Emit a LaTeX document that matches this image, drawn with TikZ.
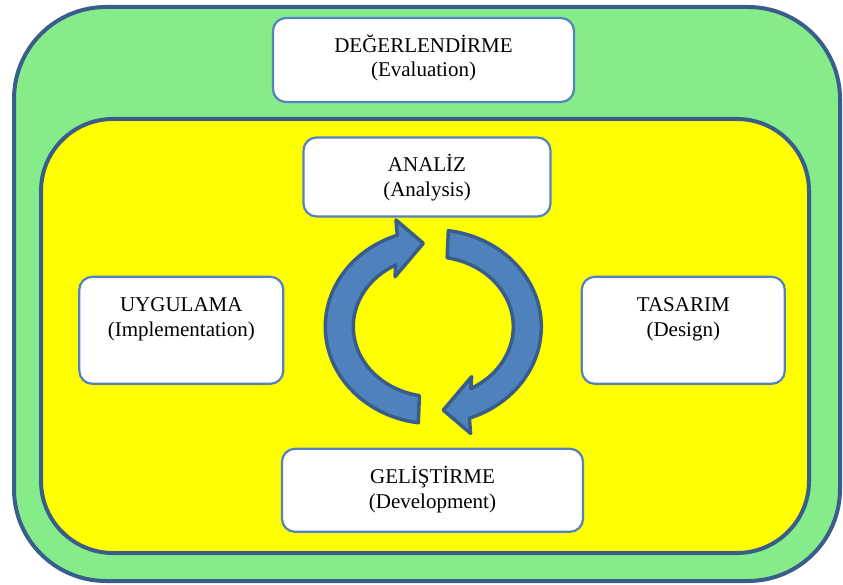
\documentclass[tikz,border=0pt]{standalone}
\usepackage{fontspec}
\setmainfont{Liberation Serif}
\definecolor{greenfill}{RGB}{134,236,137}
\definecolor{yellowfill}{RGB}{255,255,0}
\definecolor{darkline}{RGB}{58,94,140}
\definecolor{boxline}{RGB}{84,130,192}
\definecolor{arrowfill}{RGB}{79,129,189}
\definecolor{arrowline}{RGB}{56,93,138}
\begin{document}
\begin{tikzpicture}[x=1pt,y=1pt,
  panel/.style={draw=darkline,line width=4pt},
  stagebox/.style={draw=boxline,fill=white,line width=2.2pt,rounded corners=13pt,inner sep=0pt},
  txt/.style={font=\fontsize{21}{25}\selectfont,anchor=base,inner sep=0pt},
  cyclearrow/.style={fill=arrowfill,draw=arrowline,line width=3.5pt,line join=round}]
\useasboundingbox (0,0) rectangle (843,584);
% outer green panel
\draw[panel,fill=greenfill,rounded corners=92pt] (14,3) rectangle (840,577);
% inner yellow panel
\draw[panel,fill=yellowfill,rounded corners=72pt] (41,31) rectangle (809,465);
% boxes
\node[stagebox,minimum width=301pt,minimum height=84pt] (deg) at (423.5,524) {};
\node[stagebox,minimum width=247pt,minimum height=79pt] (ana) at (427,407) {};
\node[stagebox,minimum width=204pt,minimum height=107pt] (uyg) at (181.3,253.7) {};
\node[stagebox,minimum width=203pt,minimum height=107pt] (tas) at (683.3,253.7) {};
\node[stagebox,minimum width=301pt,minimum height=83pt] (gel) at (432.5,93.7) {};
% texts
\node[txt] (deg1) at (423.5,531) {DEĞERLENDİRME};
\node[txt] (deg2) at (423.5,507) {(Evaluation)};
\node[txt] (ana1) at (427,412.3) {ANALİZ};
\node[txt] (ana2) at (427,387.3) {(Analysis)};
\node[txt] (uyg1) at (181.3,272.3) {UYGULAMA};
\node[txt] (uyg2) at (181.3,247.3) {(Implementation)};
\node[txt] (tas1) at (683.3,272.3) {TASARIM};
\node[txt] (tas2) at (683.3,247.3) {(Design)};
\node[txt] (gel1) at (432.5,100.7) {GELİŞTİRME};
\node[txt] (gel2) at (432.5,75.7) {(Development)};
% circular arrows
\coordinate (cyc) at (433.3,257.3);
\foreach \r in {0,180}{
\begin{scope}[shift={(cyc)},rotate=\r]
\draw[cyclearrow] (260:80pt and 70pt) -- (262:108pt and 97pt)
  arc[start angle=262,end angle=109.5,x radius=108pt,y radius=97pt]
  -- (-37.3,106.7) -- (-10,83.4) -- (-38.3,50) -- (118:80pt and 70pt)
  arc[start angle=118,end angle=260,x radius=80pt,y radius=70pt] -- cycle;
\end{scope}}
\end{tikzpicture}
\end{document}
